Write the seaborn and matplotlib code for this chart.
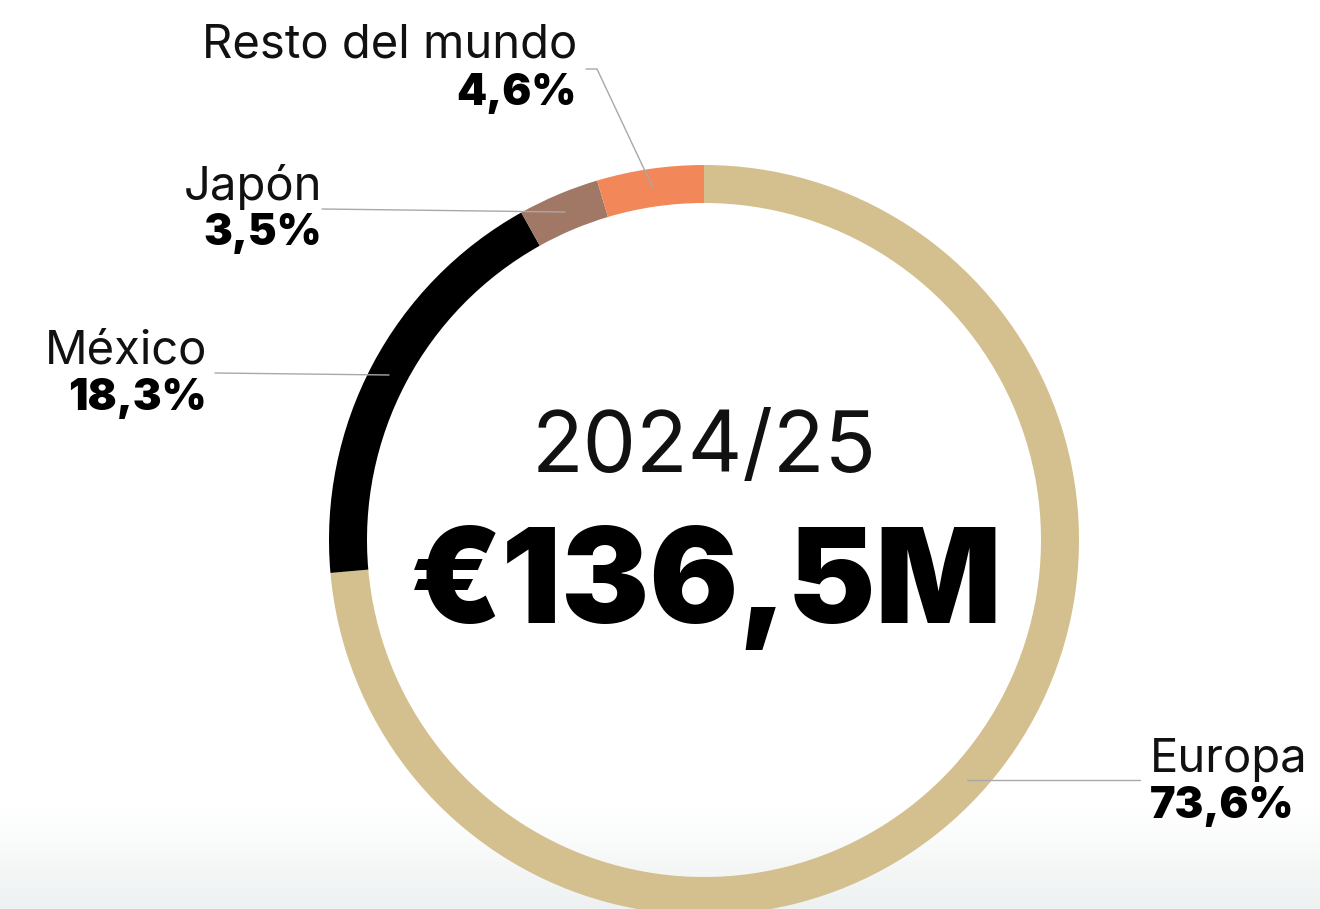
import numpy as np
import matplotlib
matplotlib.use("Agg")
import matplotlib.pyplot as plt
import seaborn as sns

# Revenue split by region, season 2024/25
regions = ["Europa", "México", "Japón", "Resto del mundo"]
shares = [73.6, 18.3, 3.5, 4.6]
colors = ["#d4c08e", "#000000", "#a07865", "#f2875a"]
season = "2024/25"
total_label = "€136,5M"

sns.set_theme(style="white")
plt.rcParams["font.family"] = ["Inter", "DejaVu Sans"]

W, H = 1320, 909
fig = plt.figure(figsize=(W / 100, H / 100), dpi=100)
ax = fig.add_axes([0, 0, 1, 1])
ax.set_xlim(0, W)
ax.set_ylim(0, H)
ax.set_aspect("equal")
ax.axis("off")


def py(y):
    """Convert a top-down pixel row to the axes' bottom-up coordinate."""
    return H - y


# soft grey band along the bottom edge
grad = np.linspace(0, 1, 256)[:, None]
band = sns.blend_palette(["#eef1f1", "#ffffff"], as_cmap=True)
ax.imshow(grad, cmap=band, extent=(0, W, 0, py(810)), origin="lower",
          aspect="auto", zorder=0)

cx, cy, r_out, ring = 704, py(540), 375, 38
ax.pie(shares, colors=colors, center=(cx, cy), radius=r_out,
       startangle=90, counterclock=False,
       wedgeprops=dict(width=ring, linewidth=0), frame=True)
ax.set_xlim(0, W)
ax.set_ylim(0, H)
ax.axis("off")

# centre text
ax.text(cx, py(472), season, ha="center", va="baseline",
        fontsize=61, color="#111111")
ax.text(cx + 2, py(623), total_label, ha="center", va="baseline",
        fontsize=95, fontweight="black", color="#000000")

# labels and leader lines
label_pos = {
    "Resto del mundo": dict(x=577, y1=58, y2=105, ha="right"),
    "Japón": dict(x=322, y1=200, y2=245, ha="right"),
    "México": dict(x=207, y1=363, y2=410, ha="right"),
    "Europa": dict(x=1150, y1=772, y2=818, ha="left"),
}
leaders = {
    "Resto del mundo": [(586, 69), (597, 69), (653, 188)],
    "Japón": [(322, 209), (565, 212)],
    "México": [(215, 373), (389, 375)],
    "Europa": [(1140, 780), (967, 780)],
}

for name, share in zip(regions, shares):
    p = label_pos[name]
    ax.text(p["x"], py(p["y1"]), name, ha=p["ha"], va="baseline",
            fontsize=34, color="#111111")
    pct = f"{share:.1f}%".replace(".", ",")
    ax.text(p["x"], py(p["y2"]), pct, ha=p["ha"], va="baseline",
            fontsize=31, fontweight="black", color="#000000")
    xs, ys = zip(*leaders[name])
    ax.plot(xs, [py(v) for v in ys], color="#a8a8a8", lw=1.0, zorder=5)

fig.savefig("out.png", dpi=100)
